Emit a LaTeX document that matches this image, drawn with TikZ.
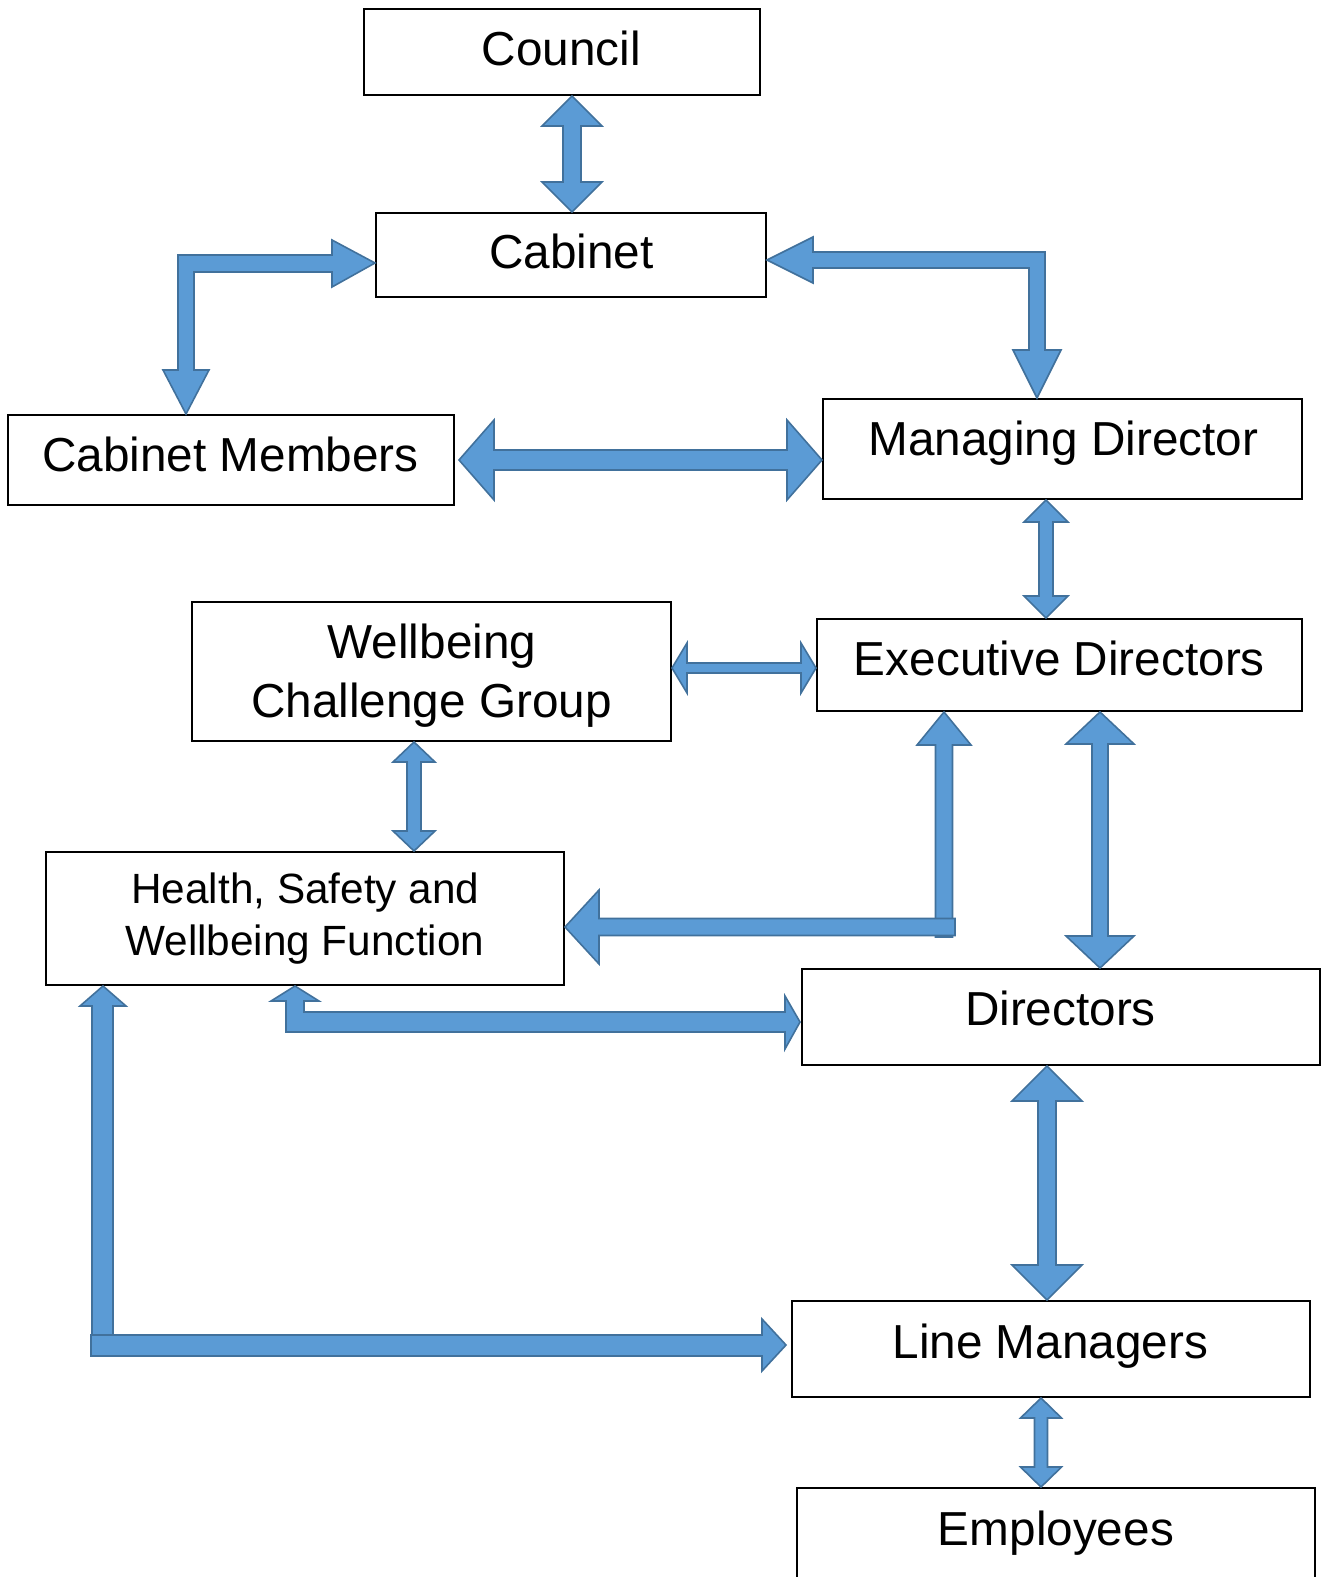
\documentclass[tikz,border=0pt]{standalone}
\usepackage{fontspec}
\setmainfont{Liberation Sans}
\usetikzlibrary{calc}
\definecolor{arrowfill}{HTML}{5B9BD5}
\definecolor{arrowline}{HTML}{41719C}
\tikzset{
  box/.style={draw=black, line width=1pt, fill=white, rectangle, inner sep=0pt},
  blockarrow/.style={fill=arrowfill, draw=arrowline, line width=0.8pt, line join=miter},
  txt/.style={font=\fontsize{23.85pt}{28pt}\selectfont, anchor=base, inner sep=0pt},
  txts/.style={font=\fontsize{21.15pt}{26pt}\selectfont, anchor=base, inner sep=0pt}
}
% #1 start, #2 end, #3 half shaft width, #4 half head width, #5 head length
\newcommand\dblarrow[5]{%
  \coordinate (da-a) at (#1);
  \coordinate (da-b) at (#2);
  \coordinate (da-a1) at ($(da-a)!#5!(da-b)$);
  \coordinate (da-b1) at ($(da-b)!#5!(da-a)$);
  \filldraw[blockarrow] (da-a) -- ($(da-a1)!#4!90:(da-b)$) -- ($(da-a1)!#3!90:(da-b)$)
    -- ($(da-b1)!#3!-90:(da-a)$) -- ($(da-b1)!#4!-90:(da-a)$) -- (da-b)
    -- ($(da-b1)!#4!90:(da-a)$) -- ($(da-b1)!#3!90:(da-a)$)
    -- ($(da-a1)!#3!-90:(da-b)$) -- ($(da-a1)!#4!-90:(da-b)$) -- cycle;
}
\begin{document}
\begin{tikzpicture}[x=0.5pt,y=-0.5pt]
\useasboundingbox (0,0) rectangle (1325,1577);
\clip (0,0) rectangle (1325,1577);

% boxes
\node[box, minimum width=198pt, minimum height=43pt] (council) at (562,52) {};
\node[box, minimum width=195pt, minimum height=42pt] (cabinet) at (571,255) {};
\node[box, minimum width=223pt, minimum height=45pt] (cabmem) at (231,460) {};
\node[box, minimum width=239.5pt, minimum height=50pt] (md) at (1062.5,449) {};
\node[box, minimum width=239.5pt, minimum height=69.5pt] (wcg) at (431.5,671.5) {};
\node[box, minimum width=242.5pt, minimum height=46pt] (exec) at (1059.5,665) {};
\node[box, minimum width=259pt, minimum height=66.5pt] (hsw) at (305,918.5) {};
\node[box, minimum width=259pt, minimum height=48pt] (dir) at (1061,1017) {};
\node[box, minimum width=259pt, minimum height=48pt] (lm) at (1051,1349) {};
\node[box, minimum width=259pt, minimum height=52pt] (emp) at (1056,1540) {};

% texts
\node[txt] (council-t) at (561.4,65.3) {Council};
\node[txt] (cabinet-t) at (571.4,268.5) {Cabinet};
\node[txt] (cabmem-t) at (230.4,471.7) {Cabinet Members};
\node[txt] (md-t) at (1063.4,455.6) {Managing Director};
\node[txt] (wcg-t1) at (432,658) {Wellbeing};
\node[txt] (wcg-t2) at (431.6,717) {Challenge Group};
\node[txt] (exec-t) at (1059.4,675) {Executive Directors};
\node[txts] (hsw-t1) at (305.3,903.3) {Health, Safety and};
\node[txts] (hsw-t2) at (304.8,955.7) {Wellbeing Function};
\node[txt] (dir-t) at (1060.4,1025) {Directors};
\node[txt] (lm-t) at (1050.3,1358) {Line Managers};
\node[txt] (emp-t) at (1055.9,1545) {Employees};

% straight double arrows
\dblarrow{572,0 |- council.south}{572,0 |- cabinet.north}{4.5pt}{15pt}{15pt}
\dblarrow{$(cabmem.east)+(4,0)$}{md.west |- cabmem.east}{5pt}{20pt}{17.5pt}
\dblarrow{1046,0 |- md.south}{1046,0 |- exec.north}{3.5pt}{11pt}{11pt}
\dblarrow{wcg.east |- 0,668}{exec.west |- 0,668}{2.5pt}{12.5pt}{7.5pt}
\dblarrow{414,0 |- wcg.south}{414,0 |- hsw.north}{3.5pt}{10.5pt}{10pt}
\dblarrow{1100,0 |- exec.south}{1100,0 |- dir.north}{4pt}{17pt}{16pt}
\dblarrow{1047,0 |- dir.south}{1047,0 |- lm.north}{4.5pt}{17.5pt}{17.5pt}
\dblarrow{1041,0 |- lm.south}{1041,0 |- emp.north}{3.25pt}{10.25pt}{10pt}

% Cabinet -> Cabinet Members (bent, two heads)
\filldraw[blockarrow] (cabinet.west |- 0,263) -- (332,240) -- (332,255) -- (178,255)
  -- (178,370) -- (163,370) -- (186,0 |- cabmem.north) -- (209,370) -- (194,370)
  -- (194,272) -- (332,272) -- (332,287) -- cycle;

% Cabinet <-> Managing Director (bent, two heads)
\filldraw[blockarrow] (cabinet.east |- 0,260) -- (813,237) -- (813,252) -- (1045,252)
  -- (1045,350) -- (1061,350) -- (1037,0 |- md.north) -- (1013,350) -- (1029,350)
  -- (1029,268) -- (813,268) -- (813,283) -- cycle;

% Executive Directors <-> Health, Safety (two pieces)
\filldraw[blockarrow] (944,0 |- exec.south) -- (971,745) -- (952.5,745) -- (952.5,937)
  -- (935.5,937) -- (935.5,745) -- (917,745) -- cycle;
\filldraw[blockarrow] (hsw.east |- 0,927) -- (599,890) -- (599,918.5) -- (955,918.5)
  -- (955,935.5) -- (599,935.5) -- (599,964) -- cycle;

% Health, Safety <-> Directors (bent, two heads)
\filldraw[blockarrow] (295,0 |- hsw.south) -- (319,1001) -- (304,1001) -- (304,1012)
  -- (785,1012) -- (785,996) -- (800,1022) -- (785,1049) -- (785,1032)
  -- (286,1032) -- (286,1001) -- (271,1001) -- cycle;

% Health, Safety <-> Line Managers (two pieces)
\filldraw[blockarrow] (103,0 |- hsw.south) -- (126,1006) -- (113,1006) -- (113,1340)
  -- (92,1340) -- (92,1006) -- (80,1006) -- cycle;
\filldraw[blockarrow] (91,1335) -- (762,1335) -- (762,1319)
  -- ($(lm.west |- 0,1345)+(-5,0)$) -- (762,1371) -- (762,1356) -- (91,1356) -- cycle;
\end{tikzpicture}
\end{document}
